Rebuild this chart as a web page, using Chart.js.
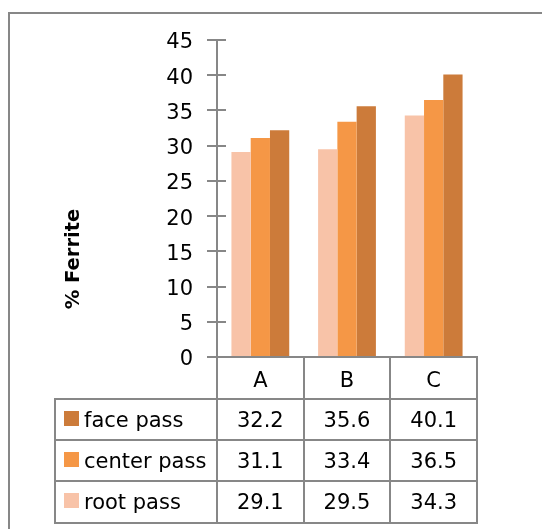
<!DOCTYPE html>
<html>
<head>
<meta charset="utf-8">
<script src="https://cdn.jsdelivr.net/npm/chart.js@4"></script>
<style>
  html, body { margin: 0; padding: 0; background: #fff; }
  canvas { display: block; }
</style>
</head>
<body>
<canvas id="chart" width="542" height="529"></canvas>
<script>
// Ferrite content per weld pass, samples A-C
const categories = ['A', 'B', 'C'];
const rootPass = [29.1, 29.5, 34.3];
const centerPass = [31.1, 33.4, 36.5];
const facePass = [32.2, 35.6, 40.1];
const seriesNames = ['root pass', 'center pass', 'face pass'];
const yAxisTitle = '% Ferrite';

const COLORS = { root: '#F8C3A8', center: '#F59746', face: '#CC7B3A' };
const LINE = '#878787';
const FONT = 'DejaVu Sans';
const FONT_SIZE = 21;

// Data table below the plot, rows listed top-down as face, center, root
const tableRows = [
  { name: seriesNames[2], values: facePass, color: COLORS.face },
  { name: seriesNames[1], values: centerPass, color: COLORS.center },
  { name: seriesNames[0], values: rootPass, color: COLORS.root }
];

const dataTablePlugin = {
  id: 'dataTable',
  beforeDraw(chart) {
    const ctx = chart.ctx;
    ctx.save();
    ctx.fillStyle = '#fff';
    ctx.fillRect(0, 0, chart.width, chart.height);
    // frame (top and left edges)
    ctx.strokeStyle = LINE;
    ctx.lineWidth = 2;
    ctx.beginPath();
    ctx.moveTo(9, chart.height);
    ctx.lineTo(9, 13);
    ctx.lineTo(chart.width, 13);
    ctx.stroke();
    ctx.restore();
  },
  afterDraw(chart) {
    const { ctx, chartArea, scales } = chart;
    const x = scales.x, y = scales.y;
    ctx.save();
    ctx.strokeStyle = LINE;
    ctx.lineWidth = 2;

    // inner half of the value-axis tick marks
    ctx.beginPath();
    y.ticks.forEach(t => {
      if (t.value === 0) return;
      const py = Math.round(y.getPixelForValue(t.value));
      ctx.moveTo(chartArea.left, py);
      ctx.lineTo(chartArea.left + 9, py);
    });
    ctx.stroke();

    const headerBottom = chartArea.bottom + x.options.grid.tickLength;
    const tableLeft = 55;
    const rowH = 41.2;
    const tableBottom = headerBottom + rowH * tableRows.length;
    const half = (x.getPixelForValue(1) - x.getPixelForValue(0)) / 2;
    const colEdges = [chartArea.left];
    categories.forEach((c, i) => colEdges.push(x.getPixelForValue(i) + half));

    // grid lines of the table
    ctx.beginPath();
    for (let r = 0; r <= tableRows.length; r++) {
      const py = Math.round(headerBottom + r * rowH);
      ctx.moveTo(tableLeft - 1, py);
      ctx.lineTo(chartArea.right + 1, py);
    }
    ctx.moveTo(tableLeft, headerBottom);
    ctx.lineTo(tableLeft, tableBottom);
    colEdges.forEach(cx => {
      ctx.moveTo(Math.round(cx), headerBottom);
      ctx.lineTo(Math.round(cx), tableBottom);
    });
    ctx.stroke();

    // row labels with legend keys and values
    ctx.font = FONT_SIZE + 'px "' + FONT + '"';
    ctx.textBaseline = 'middle';
    tableRows.forEach((row, r) => {
      const cy = headerBottom + r * rowH + rowH / 2;
      ctx.fillStyle = row.color;
      ctx.fillRect(64, Math.round(cy - 9), 15, 15);
      ctx.fillStyle = '#000';
      ctx.textAlign = 'left';
      ctx.fillText(row.name, 84, cy + 2);
      ctx.textAlign = 'center';
      row.values.forEach((v, i) => {
        ctx.fillText(v.toFixed(1), x.getPixelForValue(i), cy + 2);
      });
    });

    // value axis title
    ctx.translate(74, 259);
    ctx.rotate(-Math.PI / 2);
    ctx.font = 'bold 19.5px "' + FONT + '"';
    ctx.textAlign = 'center';
    ctx.fillText(yAxisTitle, 0, 0);
    ctx.restore();
  }
};

new Chart(document.getElementById('chart'), {
  type: 'bar',
  data: {
    labels: categories,
    datasets: [
      { label: seriesNames[0], data: rootPass, backgroundColor: COLORS.root },
      { label: seriesNames[1], data: centerPass, backgroundColor: COLORS.center },
      { label: seriesNames[2], data: facePass, backgroundColor: COLORS.face }
    ]
  },
  options: {
    responsive: false,
    devicePixelRatio: 1,
    animation: false,
    layout: { padding: { top: 40, right: 65, left: 0, bottom: 0 } },
    datasets: { bar: { categoryPercentage: 0.667, barPercentage: 1, borderWidth: 0 } },
    plugins: { legend: { display: false }, tooltip: { enabled: false } },
    scales: {
      x: {
        offset: true,
        grid: { offset: true, drawOnChartArea: false, tickLength: 42, color: LINE, lineWidth: 2 },
        border: { color: LINE, width: 2 },
        ticks: { color: '#000', padding: -30, font: { family: FONT, size: FONT_SIZE } },
        afterFit(scale) { scale.height = 172; }
      },
      y: {
        min: 0,
        max: 45,
        ticks: { stepSize: 5, color: '#000', padding: 14, labelOffset: 3, font: { family: FONT, size: FONT_SIZE } },
        grid: { drawOnChartArea: false, tickLength: 10, color: LINE, lineWidth: 2 },
        border: { color: LINE, width: 2 },
        afterFit(scale) { scale.width = 217; }
      }
    }
  },
  plugins: [dataTablePlugin]
});
</script>
</body>
</html>
